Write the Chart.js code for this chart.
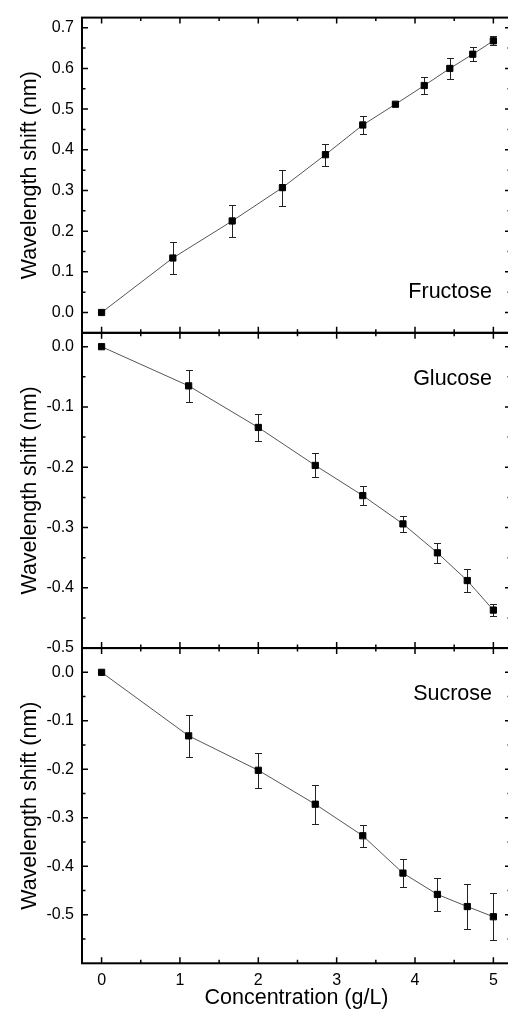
<!DOCTYPE html>
<html>
<head>
<meta charset="utf-8">
<title>Wavelength shift vs concentration</title>
<script src="https://cdn.jsdelivr.net/npm/chart.js@4.4.1/dist/chart.umd.min.js"></script>
<style>
  html, body { margin: 0; padding: 0; background: #fff; overflow: hidden; }
  #wrap { position: relative; width: 508px; height: 1012px; overflow: hidden; }
  #shiftChart { position: absolute; left: 0; top: 0; display: block; }
</style>
</head>
<body>
<!-- canvas is a few px wider than the page: the right spine falls off the edge, only its ticks show -->
<div id="wrap"><canvas id="shiftChart" width="511" height="1012"></canvas></div>
<script>
// concentration in g/L, shift in nm, error = half-height of the bar
const concFructose = [0, 0.909, 1.667, 2.308, 2.857, 3.333, 3.75, 4.118, 4.444, 4.737, 5.0];
const shiftFructose = [0, 0.134, 0.225, 0.307, 0.388, 0.461, 0.512, 0.558, 0.600, 0.635, 0.668];
const errFructose = [0, 0.039, 0.039, 0.044, 0.027, 0.022, 0.004, 0.021, 0.025, 0.017, 0.011];

const concGlucose = [0, 1.111, 2.0, 2.727, 3.333, 3.846, 4.286, 4.667, 5.0];
const shiftGlucose = [0, -0.065, -0.134, -0.197, -0.247, -0.294, -0.342, -0.388, -0.437];
const errGlucose = [0, 0.027, 0.022, 0.020, 0.016, 0.013, 0.017, 0.019, 0.010];

const concSucrose = [0, 1.111, 2.0, 2.727, 3.333, 3.846, 4.286, 4.667, 5.0];
const shiftSucrose = [0, -0.131, -0.202, -0.272, -0.337, -0.414, -0.458, -0.483, -0.504];
const errSucrose = [0, 0.043, 0.036, 0.040, 0.023, 0.029, 0.034, 0.046, 0.048];

const panelNames = ['Fructose', 'Glucose', 'Sucrose'];
const panelAxes = ['yF', 'yG', 'yS'];
const panelRanges = [[-0.05, 0.725], [-0.5, 0.023], [-0.6, 0.05]];
const xRange = [-0.25, 5.225];

const FONT = "'Liberation Sans', Arial, sans-serif";

function toPoints(xs, ys) {
  return xs.map((x, i) => ({ x: x, y: ys[i] }));
}

function makeSet(xs, ys, errs, axis) {
  return {
    data: toPoints(xs, ys),
    errors: errs,
    yAxisID: axis,
    borderColor: '#555',
    borderWidth: 1,
    pointStyle: 'rect',
    pointRadius: 4.4,
    pointBorderWidth: 1,
    pointBackgroundColor: '#000',
    pointBorderColor: '#000',
    tension: 0
  };
}

function makeYAxis(k) {
  return {
    type: 'linear',
    position: 'left',
    stack: 'panels',
    stackWeight: 1,
    min: panelRanges[k][0],
    max: panelRanges[k][1],
    grid: { display: false, drawTicks: false },
    border: { display: false },
    ticks: {
      stepSize: 0.1,
      includeBounds: false,
      autoSkip: false,
      padding: 8,
      color: '#000',
      font: { family: FONT, size: 16 },
      callback: v => v.toFixed(1)
    },
    title: {
      display: true,
      text: 'Wavelength shift (nm)',
      color: '#000',
      font: { family: FONT, size: 21.5 },
      padding: { top: 17, bottom: 0 }
    },
    afterFit: s => { s.width = 82; }
  };
}

// error bars sit under the markers
const errorBars = {
  id: 'errorBars',
  beforeDatasetsDraw(chart) {
    const ctx = chart.ctx;
    const xs = chart.scales.x;
    ctx.save();
    ctx.strokeStyle = '#222';
    ctx.lineWidth = 1;
    chart.data.datasets.forEach(ds => {
      const ys = chart.scales[ds.yAxisID];
      ds.data.forEach((p, i) => {
        const e = ds.errors[i];
        if (!e) return;
        const px = Math.round(xs.getPixelForValue(p.x)) + 0.5;
        const y1 = Math.round(ys.getPixelForValue(p.y + e)) + 0.5;
        const y2 = Math.round(ys.getPixelForValue(p.y - e)) + 0.5;
        ctx.beginPath();
        ctx.moveTo(px, y1); ctx.lineTo(px, y2);
        ctx.moveTo(px - 3.5, y1); ctx.lineTo(px + 3.5, y1);
        ctx.moveTo(px - 3.5, y2); ctx.lineTo(px + 3.5, y2);
        ctx.stroke();
      });
    });
    ctx.restore();
  }
};

// boxed panels with inward ticks on all four sides, plus the sugar names
const frames = {
  id: 'frames',
  afterDraw(chart) {
    const { ctx, chartArea } = chart;
    const xs = chart.scales.x;
    const L = chartArea.left, R = chartArea.right;
    ctx.save();
    ctx.strokeStyle = '#000';
    panelAxes.forEach((id, k) => {
      const ys = chart.scales[id];
      const T = ys.top, B = ys.bottom;
      ctx.lineWidth = 1.5;
      ctx.beginPath();
      for (let n = 0; n <= 10; n++) {
        const px = xs.getPixelForValue(n * 0.5);
        const len = n % 2 === 0 ? 6 : 3.5;
        ctx.moveTo(px, B); ctx.lineTo(px, B - len);
        ctx.moveTo(px, T); ctx.lineTo(px, T + len);
      }
      const n0 = Math.ceil(ys.min / 0.05 - 1e-6);
      const n1 = Math.floor(ys.max / 0.05 + 1e-6);
      for (let n = n0; n <= n1; n++) {
        const py = ys.getPixelForValue(n * 0.05);
        if (py < T + 1.5 || py > B - 1.5) continue;
        const len = n % 2 === 0 ? 6 : 3.5;
        ctx.moveTo(L, py); ctx.lineTo(L + len, py);
        ctx.moveTo(R, py); ctx.lineTo(R - len, py);
      }
      ctx.stroke();
      ctx.lineWidth = 2;
      ctx.strokeRect(L, T, R - L, B - T);

      ctx.fillStyle = '#000';
      ctx.font = '21.5px ' + FONT;
      ctx.textAlign = 'right';
      ctx.textBaseline = 'middle';
      const ly = k === 0 ? B - 41 : T + 46;
      ctx.fillText(panelNames[k], 492, ly);
    });
    ctx.restore();
  }
};

new Chart(document.getElementById('shiftChart'), {
  type: 'line',
  data: {
    datasets: [
      makeSet(concFructose, shiftFructose, errFructose, 'yF'),
      makeSet(concGlucose, shiftGlucose, errGlucose, 'yG'),
      makeSet(concSucrose, shiftSucrose, errSucrose, 'yS')
    ]
  },
  options: {
    responsive: false,
    animation: false,
    layout: { autoPadding: false, padding: { top: 14, right: 0, bottom: 0, left: 0 } },
    plugins: { legend: { display: false }, tooltip: { enabled: false } },
    scales: {
      x: {
        type: 'linear',
        position: 'bottom',
        min: xRange[0],
        max: xRange[1],
        grid: { display: false, drawTicks: false },
        border: { display: false },
        ticks: {
          stepSize: 1,
          includeBounds: false,
          padding: 8,
          color: '#000',
          font: { family: FONT, size: 16 },
          callback: v => String(v)
        },
        title: {
          display: true,
          text: 'Concentration (g/L)',
          color: '#000',
          font: { family: FONT, size: 21.5 },
          padding: { top: 0, bottom: 1 }
        },
        afterFit: s => { s.height = 48.7; }
      },
      // stacked left axes are laid out bottom-up, so the lowest panel comes first
      yS: makeYAxis(2),
      yG: makeYAxis(1),
      yF: makeYAxis(0)
    }
  },
  plugins: [errorBars, frames]
});
</script>
</body>
</html>
